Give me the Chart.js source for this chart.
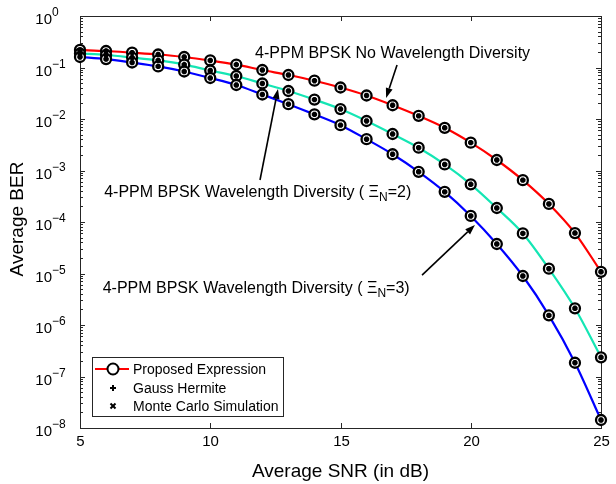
<!DOCTYPE html>
<html>
<head>
<meta charset="utf-8">
<title>Average BER vs Average SNR</title>
<script src="https://cdn.jsdelivr.net/npm/chart.js"></script>
<style>
  body { margin: 0; background: #fff; }
</style>
</head>
<body>
<canvas id="berChart" width="616" height="484"></canvas>
<script>
// SNR points (dB) and BER values
var snr = [5, 6, 7, 8, 9, 10, 11, 12, 13, 14, 15, 16, 17, 18, 19, 20, 21, 22, 23, 24, 25];
var berNoDiv = [0.219, 0.209, 0.194, 0.179, 0.160, 0.137, 0.114, 0.0894, 0.0715, 0.0554, 0.0409,
                0.0286, 0.0185, 0.0115, 0.00675, 0.00347, 0.00160, 6.5e-4, 2.24e-4, 6.1e-5, 1.08e-5];
var berDiv2 = [0.187, 0.175, 0.156, 0.137, 0.114, 0.0875, 0.0684, 0.0489, 0.0350, 0.0238, 0.0156,
               0.00915, 0.00511, 0.00277, 0.00131, 5.4e-4, 1.87e-4, 6.0e-5, 1.24e-5, 2.11e-6, 2.36e-7];
var berDiv3 = [0.160, 0.146, 0.125, 0.105, 0.0836, 0.0625, 0.0457, 0.0299, 0.0194, 0.0123, 0.00759,
               0.00405, 0.00207, 9.44e-4, 3.85e-4, 1.31e-4, 3.74e-5, 8.94e-6, 1.54e-6, 1.85e-7, 1.43e-8];
var xTicks = [5, 10, 15, 20, 25];
var yExponents = [0, -1, -2, -3, -4, -5, -6, -7, -8];
var legendLabels = ['Proposed Expression', 'Gauss Hermite', 'Monte Carlo Simulation'];

var FONT = '"Liberation Sans", Arial, sans-serif';

function points(ber) {
    return snr.map(function(s, i) { return {x: s, y: ber[i]}; });
}
function allPoints() {
    return points(berNoDiv).concat(points(berDiv2), points(berDiv3));
}

// text labels and arrows, in data units (SNR, BER)
var notes = [
    {x: 11.72, y: 0.187, parts: [['4-PPM BPSK No Wavelength Diversity', 0]]},
    {x: 5.93, y: 3.66e-4, parts: [['4-PPM BPSK Wavelength Diversity ( ', 0], ['\u039E', 0], ['N', 1], ['=2)', 0]]},
    {x: 5.87, y: 5.12e-6, parts: [['4-PPM BPSK Wavelength Diversity ( ', 0], ['\u039E', 0], ['N', 1], ['=3)', 0]]}
];
var arrows = [
    {from: [17.17, 0.112], to: [16.75, 0.0256]},
    {from: [11.91, 6.54e-4], to: [12.6, 0.0383]},
    {from: [18.13, 9.3e-6], to: [20.16, 8.75e-5]}
];

function seg(ctx, x1, y1, x2, y2) {
    ctx.beginPath(); ctx.moveTo(x1, y1); ctx.lineTo(x2, y2); ctx.stroke();
}

function drawArrow(ctx, x1, y1, x2, y2) {
    var ang = Math.atan2(y2 - y1, x2 - x1), len = 10, hw = 3.5;
    var bx = x2 - len * Math.cos(ang), by = y2 - len * Math.sin(ang);
    ctx.lineWidth = 1.6;
    seg(ctx, x1, y1, bx, by);
    ctx.beginPath();
    ctx.moveTo(x2, y2);
    ctx.lineTo(bx + hw * Math.sin(ang), by - hw * Math.cos(ang));
    ctx.lineTo(bx - hw * Math.sin(ang), by + hw * Math.cos(ang));
    ctx.closePath();
    ctx.fill();
}

var axesPlugin = {
    id: 'matlabAxes',
    beforeDatasetsDraw: function(chart) {
        var ctx = chart.ctx, a = chart.chartArea, xs = chart.scales.x, ys = chart.scales.y;
        ctx.save();
        ctx.strokeStyle = '#262626';
        ctx.fillStyle = '#000';
        ctx.lineWidth = 1;
        ctx.strokeRect(a.left + 0.5, a.top + 0.5, a.right - a.left, a.bottom - a.top);

        // x ticks and labels
        ctx.font = '15px ' + FONT;
        ctx.textAlign = 'center';
        ctx.textBaseline = 'middle';
        xTicks.forEach(function(v) {
            var px = Math.round(xs.getPixelForValue(v)) + 0.5;
            seg(ctx, px, a.bottom, px, a.bottom - 5);
            seg(ctx, px, a.top, px, a.top + 5);
            ctx.fillText(String(v), px, a.bottom + 14);
        });

        // y ticks (major + minor) and 10^n labels
        yExponents.forEach(function(e) {
            var py = Math.round(ys.getPixelForValue(Math.pow(10, e))) + 0.5;
            seg(ctx, a.left, py, a.left + 5, py);
            seg(ctx, a.right, py, a.right - 5, py);
            if (e < 0) {
                for (var m = 2; m <= 9; m++) {
                    var pm = Math.round(ys.getPixelForValue(m * Math.pow(10, e))) + 0.5;
                    seg(ctx, a.left, pm, a.left + 3, pm);
                    seg(ctx, a.right, pm, a.right - 3, pm);
                }
            }
            ctx.font = '15px ' + FONT;
            ctx.textAlign = 'right';
            ctx.fillText('10', a.left - 28, py + 3);
            ctx.font = '12px ' + FONT;
            ctx.textAlign = 'left';
            ctx.fillText(e < 0 ? '\u2212' + (-e) : String(e), a.left - 28, py - 4);
        });

        // axis titles
        ctx.font = '19px ' + FONT;
        ctx.textAlign = 'center';
        ctx.fillText('Average SNR (in dB)', (a.left + a.right) / 2, a.bottom + 44);
        ctx.save();
        ctx.translate(18, (a.top + a.bottom) / 2 - 3);
        ctx.rotate(-Math.PI / 2);
        ctx.fillText('Average BER', 0, 0);
        ctx.restore();
        ctx.restore();
    },
    afterDraw: function(chart) {
        var ctx = chart.ctx, a = chart.chartArea, xs = chart.scales.x, ys = chart.scales.y;
        ctx.save();
        ctx.fillStyle = '#000';
        ctx.strokeStyle = '#000';

        // annotations
        ctx.textBaseline = 'middle';
        ctx.textAlign = 'left';
        notes.forEach(function(n) {
            var px = xs.getPixelForValue(n.x), py = ys.getPixelForValue(n.y);
            n.parts.forEach(function(p) {
                ctx.font = (p[1] ? '12px ' : '16px ') + FONT;
                ctx.fillText(p[0], px, py + (p[1] ? 5 : 0));
                px += ctx.measureText(p[0]).width;
            });
        });
        arrows.forEach(function(r) {
            drawArrow(ctx, xs.getPixelForValue(r.from[0]), ys.getPixelForValue(r.from[1]),
                      xs.getPixelForValue(r.to[0]), ys.getPixelForValue(r.to[1]));
        });

        // legend box
        var lx = a.left + 12, ly = a.bottom - 71, lw = 191, lh = 59;
        ctx.fillStyle = '#fff';
        ctx.fillRect(lx, ly, lw, lh);
        ctx.lineWidth = 1;
        ctx.strokeStyle = '#262626';
        ctx.strokeRect(lx + 0.5, ly + 0.5, lw, lh);
        var sx = lx + 21, rows = [ly + 12, ly + 31, ly + 49];
        ctx.strokeStyle = '#ff0000';
        ctx.lineWidth = 2;
        seg(ctx, lx + 3, rows[0], lx + 37, rows[0]);
        ctx.strokeStyle = '#000';
        ctx.fillStyle = '#fff';
        ctx.beginPath(); ctx.arc(sx, rows[0], 5.5, 0, Math.PI * 2); ctx.fill(); ctx.stroke();
        seg(ctx, sx - 3, rows[1], sx + 3, rows[1]);
        seg(ctx, sx, rows[1] - 3, sx, rows[1] + 3);
        seg(ctx, sx - 2.5, rows[2] - 2.5, sx + 2.5, rows[2] + 2.5);
        seg(ctx, sx - 2.5, rows[2] + 2.5, sx + 2.5, rows[2] - 2.5);
        ctx.fillStyle = '#000';
        ctx.font = '14px ' + FONT;
        legendLabels.forEach(function(t, i) { ctx.fillText(t, lx + 41, rows[i] + 1); });
        ctx.restore();
    }
};

// lower "order" is drawn on top
function curve(data, color, order) {
    return {data: points(data), borderColor: color, borderWidth: 2.2, pointRadius: 0, order: order,
            cubicInterpolationMode: 'monotone', fill: false, clip: false};
}
function markers(style, radius, width, bg, order) {
    return {data: allPoints(), showLine: false, pointStyle: style, pointRadius: radius, order: order,
            pointBorderWidth: width, pointBorderColor: '#000', pointBackgroundColor: bg, clip: false};
}

new Chart(document.getElementById('berChart').getContext('2d'), {
    type: 'line',
    data: {
        datasets: [
            curve(berNoDiv, '#ff0000', 4),
            curve(berDiv2, '#14e6b4', 5),
            curve(berDiv3, '#0000ff', 6),
            markers('circle', 5, 2.3, '#fff', 3),
            markers('cross', 2.7, 2.2, '#000', 2),
            markers('crossRot', 2.7, 2.2, '#000', 1)
        ]
    },
    options: {
        responsive: false,
        animation: false,
        layout: {padding: {left: 80, right: 15, top: 16, bottom: 56}},
        plugins: {legend: {display: false}, tooltip: {enabled: false}},
        scales: {
            x: {type: 'linear', min: 5, max: 25, display: false},
            y: {type: 'logarithmic', min: 1e-8, max: 1, display: false}
        }
    },
    plugins: [axesPlugin]
});
</script>
</body>
</html>
